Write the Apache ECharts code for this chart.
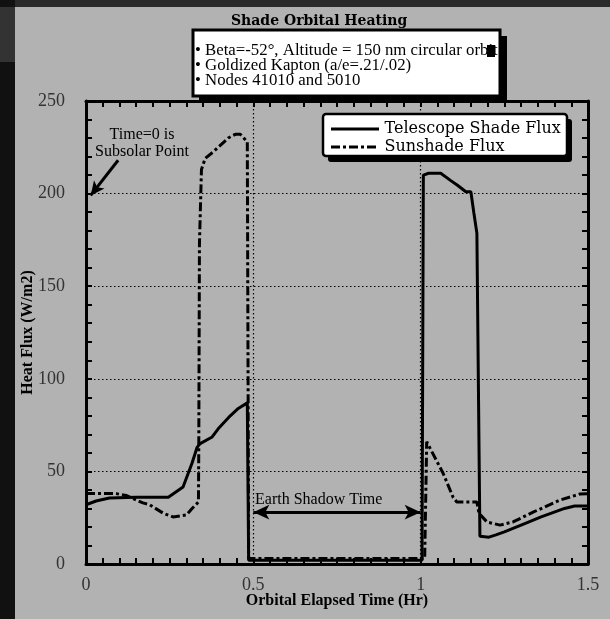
<!DOCTYPE html>
<html>
<head>
<meta charset="utf-8">
<script src="https://cdn.jsdelivr.net/npm/echarts@6/dist/echarts.min.js"></script>
<style>html,body{margin:0;padding:0;background:#b2b2b2;}#chart{width:610px;height:619px;}</style>
</head>
<body>
<div id="chart"></div>
<script>
// ---- data ----
const titleText = 'Shade Orbital Heating';
const seriesNames = ['Telescope Shade Flux', 'Sunshade Flux'];
const xTicks = [0, 0.5, 1, 1.5];
const yTicks = [0, 50, 100, 150, 200, 250];
const noteLines = ['• Beta=-52°, Altitude = 150 nm circular orbit', '• Goldized Kapton (a/e=.21/.02)', '• Nodes 41010 and 5010'];

const telX = [0, 0.03, 0.07, 0.15, 0.246, 0.29, 0.317, 0.332, 0.341, 0.377, 0.395, 0.431, 0.455, 0.482, 0.486, 0.75, 1.004, 1.008, 1.024, 1.06, 1.09, 1.11, 1.135, 1.15, 1.159, 1.168, 1.177, 1.204, 1.225, 1.25, 1.30, 1.36, 1.43, 1.46, 1.5];
const telY = [32, 34, 35.6, 36, 36, 41.6, 54.5, 63, 65, 68.6, 73, 80, 84, 87, 2, 2, 2, 210, 211, 211, 207, 204.5, 201, 201, 189.5, 178.6, 15, 14.5, 15.7, 17.3, 21, 25.4, 30, 31.3, 31.3];

const sunX = [0, 0.09, 0.12, 0.17, 0.19, 0.23, 0.26, 0.30, 0.317, 0.336, 0.337, 0.339, 0.345, 0.356, 0.38, 0.395, 0.425, 0.446, 0.461, 0.482, 0.486, 0.75, 1.012, 1.018, 1.067, 1.097, 1.108, 1.168, 1.174, 1.198, 1.237, 1.276, 1.336, 1.416, 1.476, 1.5];
const sunY = [38, 38, 37, 33, 32, 27.5, 25.4, 26.5, 30, 33.5, 63, 173, 213, 219, 222.5, 225, 230, 232, 232, 228, 3, 3, 3, 66, 49, 36, 33.5, 33.5, 27.5, 22.7, 21, 22.7, 28, 34.5, 37.8, 38];

// annotation arrows (data coordinates)
const shadowArrow = [[0.5, 28], [1.0, 28]];
const subsolarArrow = [[0.096, 218], [0.014, 199]];

const SERIF = "'Liberation Serif', 'Times New Roman', serif";
const WIDE = "'DejaVu Serif', serif";

const chart = echarts.init(document.getElementById('chart'), null, {renderer: 'canvas'});

function pairs(xs, ys) { return xs.map((x, i) => [x, ys[i]]); }

const tickStyle = {color: '#000', width: 2};
function axisBase(extra) {
  return Object.assign({
    type: 'value',
    axisLine: {show: true, onZero: false, lineStyle: {color: '#000', width: 3}},
    axisTick: {show: true, inside: true, length: 6, lineStyle: tickStyle},
    nameMoveOverlap: false
  }, extra);
}

const solidIcon = 'path://M0,0H48V3H0Z';
const dashIcon = 'path://M0,0h9v3h-9z M12,0h3v3h-3z M18,0h9v3h-9z M30,0h3v3h-3z M36,0h9v3h-9z M48,0h0.01v3h-0.01z';

const option = {
  backgroundColor: '#b2b2b2',
  animation: false,
  title: {
    text: titleText, left: 226, top: 9,
    textStyle: {fontFamily: WIDE, fontWeight: 'bold', fontSize: 14, color: '#000'}
  },
  grid: {left: 86, right: 22, top: 101, bottom: 55, show: false},
  legend: {
    orient: 'vertical', left: 331, top: 121, padding: 0, itemGap: 2,
    itemWidth: 49, itemHeight: 3, z: 20,
    textStyle: {fontFamily: WIDE, fontSize: 16, color: '#000', lineHeight: 16},
    data: [
      {name: seriesNames[0], icon: solidIcon, itemStyle: {color: '#000'}},
      {name: seriesNames[1], icon: dashIcon, itemStyle: {color: '#000'}}
    ]
  },
  xAxis: [
    axisBase({
      min: 0, max: 1.5, interval: 0.5, position: 'bottom',
      minorTick: {show: true, splitNumber: 10, length: 6, lineStyle: tickStyle},
      axisLabel: {show: true, fontFamily: SERIF, fontSize: 18, color: '#333', margin: 12,
        formatter: v => xTicks.indexOf(v) >= 0 ? String(v) : ''},
      splitLine: {show: true, lineStyle: {color: '#000', type: [1.5, 2.5], width: 1.2}},
      name: 'Orbital Elapsed Time (Hr)', nameLocation: 'middle', nameGap: 29,
      nameTextStyle: {fontFamily: SERIF, fontWeight: 'bold', fontSize: 16, color: '#000', align: 'center'}
    }),
    axisBase({
      min: 0, max: 1.5, interval: 0.5, position: 'top',
      minorTick: {show: true, splitNumber: 10, length: 6, lineStyle: tickStyle},
      axisLabel: {show: false}, splitLine: {show: false}
    })
  ],
  yAxis: [
    axisBase({
      min: 0, max: 250, interval: 50, position: 'left',
      minorTick: {show: true, splitNumber: 5, length: 6, lineStyle: tickStyle},
      axisLabel: {show: true, fontFamily: SERIF, fontSize: 18, color: '#333', margin: 21,
        formatter: v => yTicks.indexOf(v) >= 0 ? String(v) : ''},
      splitLine: {show: true, lineStyle: {color: '#000', type: [1.5, 2.5], width: 1.2}},
      name: 'Heat Flux (W/m2)', nameLocation: 'middle', nameGap: 50, nameRotate: 90,
      nameTextStyle: {fontFamily: SERIF, fontWeight: 'bold', fontSize: 16, color: '#000'}
    }),
    axisBase({
      min: 0, max: 250, interval: 50, position: 'right',
      minorTick: {show: true, splitNumber: 5, length: 6, lineStyle: tickStyle},
      axisLabel: {show: false}, splitLine: {show: false}
    })
  ],
  series: [
    {
      name: seriesNames[0], type: 'line', xAxisIndex: 0, yAxisIndex: 0,
      data: pairs(telX, telY), symbol: 'none', showSymbol: false, z: 5,
      lineStyle: {color: '#000', width: 3, type: 'solid'},
      itemStyle: {color: '#000'},
      markLine: {
        silent: true, symbol: ['arrow', 'arrow'], symbolSize: [11, 16],
        lineStyle: {color: '#000', width: 3, type: 'solid'},
        label: {show: false},
        data: [[{coord: shadowArrow[0]}, {coord: shadowArrow[1]}]]
      }
    },
    {
      name: seriesNames[1], type: 'line', xAxisIndex: 0, yAxisIndex: 0,
      data: pairs(sunX, sunY), symbol: 'none', showSymbol: false, z: 4,
      lineStyle: {color: '#000', width: 3, type: [9, 3, 3, 3]},
      itemStyle: {color: '#000'},
      markLine: {
        silent: true, symbol: ['none', 'arrow'], symbolSize: [10, 14],
        lineStyle: {color: '#000', width: 3, type: 'solid'},
        label: {show: false},
        data: [[{coord: subsolarArrow[0]}, {coord: subsolarArrow[1]}]]
      }
    }
  ],
  graphic: [
    {type: 'rect', shape: {x: 0, y: 0, width: 610, height: 7}, style: {fill: '#2a2a2a'}, z: 1, silent: true},
    {type: 'rect', shape: {x: 0, y: 0, width: 15, height: 619}, style: {fill: '#111'}, z: 1, silent: true},
    {type: 'rect', shape: {x: 0, y: 7, width: 15, height: 55}, style: {fill: '#333'}, z: 1, silent: true},
    {type: 'rect', shape: {x: 199, y: 36, width: 308, height: 67}, style: {fill: '#000'}, z: 10, silent: true},
    {type: 'rect', shape: {x: 193, y: 30, width: 307, height: 66}, style: {fill: '#fff', stroke: '#000', lineWidth: 3}, z: 11, silent: true},
    {type: 'text', x: 195, y: 43, z: 12, silent: true,
      style: {text: noteLines.join('\n'), font: "16.8px 'Liberation Serif', serif", fill: '#000', lineHeight: 15, verticalAlign: 'top'}},
    {type: 'rect', shape: {x: 487, y: 45, width: 8, height: 12}, style: {fill: '#000'}, z: 13, silent: true},
    {type: 'rect', shape: {x: 328, y: 119, width: 244, height: 43, r: 3}, style: {fill: '#000'}, z: 10, silent: true},
    {type: 'rect', shape: {x: 323, y: 114, width: 244, height: 42, r: 3}, style: {fill: '#fff', stroke: '#000', lineWidth: 2.5}, z: 11, silent: true},
    {type: 'text', x: 142, y: 126, z: 12, silent: true,
      style: {text: 'Time=0 is\nSubsolar Point', font: "16px 'Liberation Serif', serif", fill: '#000', lineHeight: 17, align: 'center', verticalAlign: 'top'}},
    {type: 'text', x: 255, y: 492, z: 12, silent: true,
      style: {text: 'Earth Shadow Time', font: "16px 'Liberation Serif', serif", fill: '#000', verticalAlign: 'top'}}
  ]
};
chart.setOption(option);
</script>
</body>
</html>
